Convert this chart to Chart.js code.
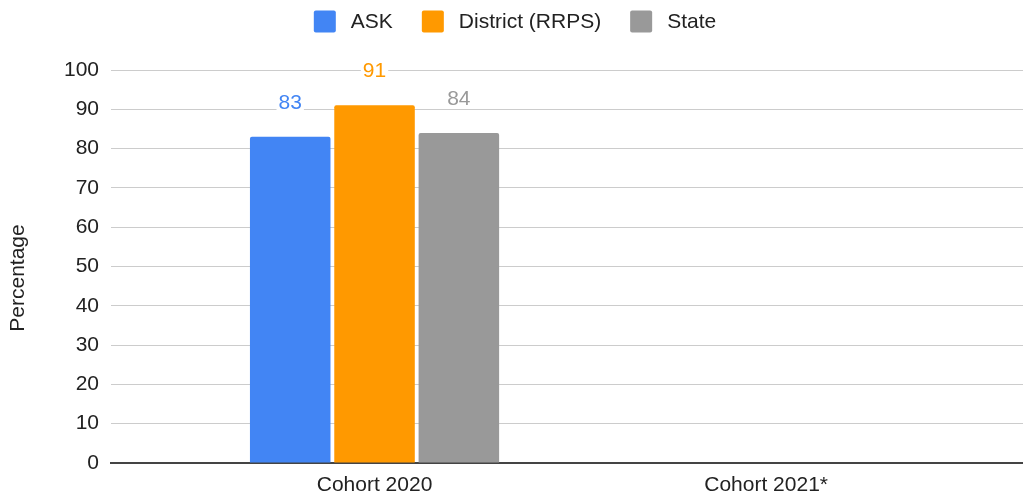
<!DOCTYPE html>
<html>
<head>
<meta charset="utf-8">
<script src="https://cdn.jsdelivr.net/npm/chart.js@4/dist/chart.umd.min.js"></script>
<style>
  html, body { margin: 0; padding: 0; background: #fff; }
  #wrap { width: 1023px; height: 499px; position: relative; }
</style>
</head>
<body>
<div id="wrap"><canvas id="chart"></canvas></div>
<script>
// Cohort categories and the three series
const categories = ['Cohort 2020', 'Cohort 2021*'];
const askValues = [83, null];
const districtValues = [91, null];
const stateValues = [84, null];
const seriesNames = ['ASK', 'District (RRPS)', 'State'];
const seriesColors = ['#4285F4', '#FF9900', '#999999'];
const yTicks = [0, 10, 20, 30, 40, 50, 60, 70, 80, 90, 100];
const yTitle = 'Percentage';

const FONT = "'Liberation Sans', Arial, sans-serif";
const TEXT = '#222222';

function toPoints(values) {
  return values.map((v, i) => ({ x: i, y: v }));
}

// Legend row across the top, plus the rotated y-axis title
const frameText = {
  id: 'frameText',
  afterDraw(chart) {
    const ctx = chart.ctx;
    const box = 22, gap = 15, itemGap = 29, cy = 21.5;
    ctx.save();
    ctx.font = '21px ' + FONT;
    const widths = seriesNames.map(n => ctx.measureText(n).width);
    let total = 0;
    widths.forEach((w, i) => { total += box + gap + w + (i ? itemGap : 0); });
    let x = 515 - total / 2;
    seriesNames.forEach((name, i) => {
      ctx.fillStyle = seriesColors[i];
      ctx.beginPath();
      ctx.roundRect(x, cy - box / 2, box, box, 2);
      ctx.fill();
      ctx.fillStyle = TEXT;
      ctx.textAlign = 'left';
      ctx.textBaseline = 'middle';
      ctx.fillText(name, x + box + gap, cy + 1);
      x += box + gap + widths[i] + itemGap;
    });

    ctx.translate(24, 278);
    ctx.rotate(-Math.PI / 2);
    ctx.textAlign = 'center';
    ctx.textBaseline = 'alphabetic';
    ctx.fillStyle = TEXT;
    ctx.fillText(yTitle, 0, 0);
    ctx.restore();
  }
};

// Value labels above each bar, on a white backing
const valueLabels = {
  id: 'valueLabels',
  afterDatasetsDraw(chart) {
    const ctx = chart.ctx;
    ctx.save();
    ctx.font = '21px ' + FONT;
    ctx.textAlign = 'center';
    ctx.textBaseline = 'middle';
    chart.data.datasets.forEach((ds, di) => {
      const meta = chart.getDatasetMeta(di);
      meta.data.forEach((bar, i) => {
        const v = ds.data[i].y;
        if (v === null || v === undefined) return;
        const text = String(v);
        const w = ctx.measureText(text).width;
        const y = bar.y - 35;
        ctx.fillStyle = '#ffffff';
        ctx.fillRect(bar.x - w / 2 - 2, y - 10, w + 4, 20);
        ctx.fillStyle = ds.backgroundColor;
        ctx.fillText(text, bar.x, y + 1);
      });
    });
    ctx.restore();
  }
};

new Chart(document.getElementById('chart'), {
  type: 'bar',
  data: {
    datasets: [
      { label: seriesNames[0], data: toPoints(askValues), backgroundColor: seriesColors[0] },
      { label: seriesNames[1], data: toPoints(districtValues), backgroundColor: seriesColors[1] },
      { label: seriesNames[2], data: toPoints(stateValues), backgroundColor: seriesColors[2] }
    ]
  },
  options: {
    responsive: true,
    maintainAspectRatio: false,
    animation: false,
    categoryPercentage: 0.646,
    barPercentage: 0.955,
    datasets: { bar: { borderRadius: 2, borderSkipped: 'start' } },
    layout: { padding: { top: 70, right: 0, left: 0, bottom: 0 } },
    plugins: {
      legend: { display: false },
      tooltip: { enabled: false }
    },
    scales: {
      x: {
        type: 'linear',
        offset: false,
        bounds: 'data',
        min: -0.673,
        max: 1.656,
        afterBuildTicks(scale) {
          scale.ticks = categories.map((_, i) => ({ value: i }));
        },
        afterFit(scale) { scale.height = 36; },
        ticks: {
          callback: (v) => categories[v],
          color: TEXT,
          font: { family: FONT, size: 21 },
          padding: 10,
          maxRotation: 0,
          autoSkip: false
        },
        grid: { display: false, drawTicks: false, offset: false },
        border: { display: true, color: '#444444', width: 2 }
      },
      y: {
        min: 0,
        max: 100,
        afterBuildTicks(scale) {
          scale.ticks = yTicks.map(v => ({ value: v }));
        },
        afterFit(scale) { scale.width = 111; },
        ticks: {
          color: TEXT,
          font: { family: FONT, size: 21 },
          padding: 12
        },
        grid: { color: '#cccccc', lineWidth: 1, drawTicks: false },
        border: { display: false }
      }
    }
  },
  plugins: [frameText, valueLabels]
});
</script>
</body>
</html>
